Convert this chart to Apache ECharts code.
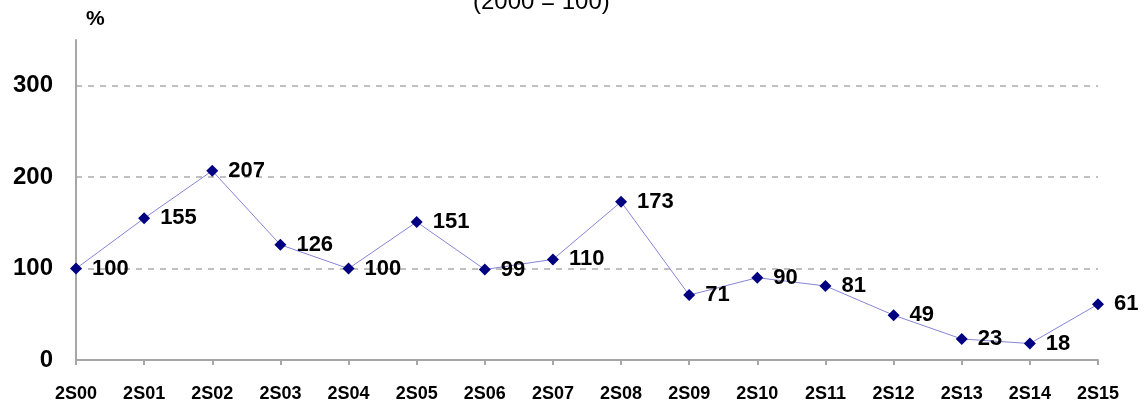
<!DOCTYPE html>
<html>
<head>
<meta charset="utf-8">
<script src="https://cdn.jsdelivr.net/npm/echarts@6/dist/echarts.min.js"></script>
<style>
    html, body { margin: 0; padding: 0; background: #fff; }
    #chart { width: 1146px; height: 407px; }
</style>
</head>
<body>
<div id="chart"></div>
<script>
// semesters along the x axis
var categories = ['2S00', '2S01', '2S02', '2S03', '2S04', '2S05', '2S06', '2S07',
    '2S08', '2S09', '2S10', '2S11', '2S12', '2S13', '2S14', '2S15'];
// index values (2000 = 100)
var values = [100, 155, 207, 126, 100, 151, 99, 110, 173, 71, 90, 81, 49, 23, 18, 61];
var yTicks = [0, 100, 200, 300];

var chart = echarts.init(document.getElementById('chart'));
var axisGray = '#a6a6a6';

var option = {
    animation: false,
    title: {
        text: '(2000 = 100)',
        left: 468,
        top: -15,
        textStyle: { fontFamily: 'Liberation Sans', fontSize: 24, fontWeight: 'normal', color: '#000' }
    },
    grid: { left: 76, right: 48, top: 40, bottom: 47 },
    xAxis: {
        type: 'category',
        data: categories,
        boundaryGap: false,
        axisLine: { lineStyle: { color: axisGray, width: 2 } },
        axisTick: { show: true, length: 5, lineStyle: { color: axisGray, width: 2 } },
        axisLabel: {
            margin: 25,
            color: '#000',
            fontFamily: 'Liberation Sans',
            fontWeight: 'bold',
            fontSize: 18,
            interval: 0
        },
        splitLine: { show: false }
    },
    yAxis: {
        type: 'value',
        min: 0,
        max: 350,
        interval: 100,
        name: '%',
        nameLocation: 'end',
        nameGap: 10,
        nameTextStyle: {
            align: 'left',
            padding: [0, 0, 0, 10],
            color: '#000',
            fontFamily: 'Liberation Sans',
            fontWeight: 'bold',
            fontSize: 21
        },
        axisLine: { show: true, lineStyle: { color: axisGray, width: 2 } },
        axisTick: { show: false },
        axisLabel: {
            margin: 23,
            showMaxLabel: false,
            color: '#000',
            fontFamily: 'Liberation Sans',
            fontWeight: 'bold',
            fontSize: 24,
            formatter: function (v) {
                return yTicks.indexOf(v) >= 0 ? String(v) : '';
            }
        },
        splitLine: {
            show: true,
            showMinLine: false,
            showMaxLine: false,
            lineStyle: { color: '#c0c0c0', width: 2, type: [6, 6] }
        }
    },
    series: [
        {
            type: 'line',
            data: values,
            symbol: 'diamond',
            symbolSize: 12,
            itemStyle: { color: '#000080' },
            lineStyle: { color: '#8585d6', width: 1 },
            label: {
                show: true,
                position: 'right',
                distance: 10,
                color: '#000',
                fontFamily: 'Liberation Sans',
                fontWeight: 'bold',
                fontSize: 22
            }
        }
    ]
};
chart.setOption(option);
</script>
</body>
</html>
